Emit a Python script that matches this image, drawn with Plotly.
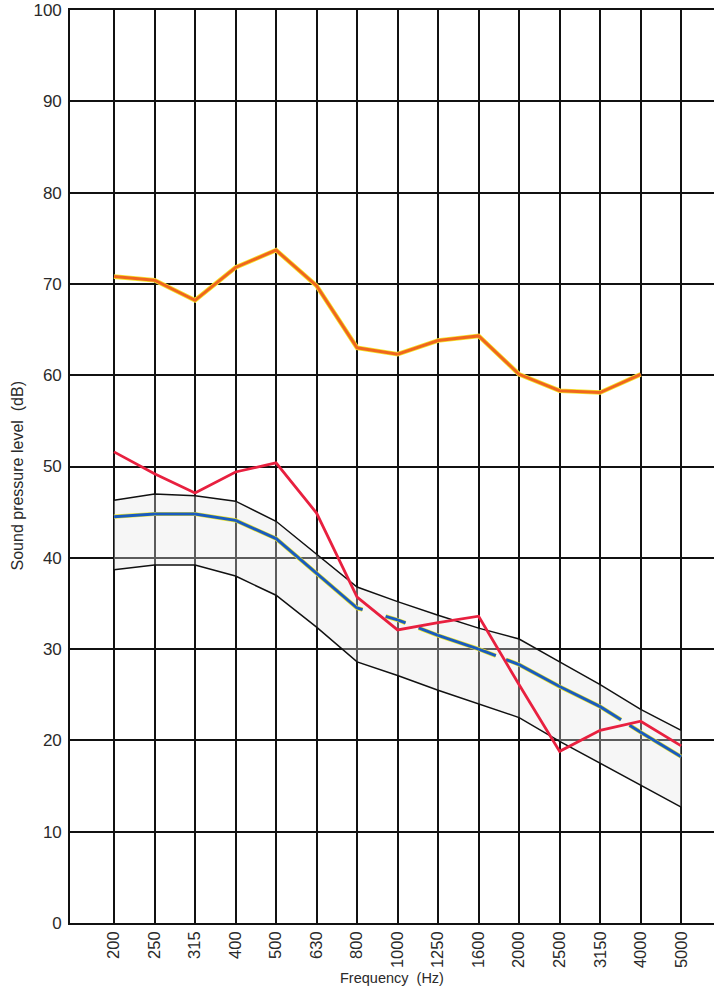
import plotly.graph_objects as go

freqs = ["200", "250", "315", "400", "500", "630", "800", "1000", "1250",
         "1600", "2000", "2500", "3150", "4000", "5000"]

# upper curve (orange) 200..4000 Hz
orange_vals = [70.8, 70.4, 68.2, 71.8, 73.7, 69.8, 63.0, 62.3, 63.8, 64.3,
               60.1, 58.3, 58.1, 60.1]
# red curve
red_vals = [51.6, 49.2, 47.1, 49.4, 50.4, 44.9, 35.7, 32.1, 32.9, 33.6,
            26.1, 18.8, 21.1, 22.1, 19.4]
# mean curve (blue, dashed)
mean_vals = [44.5, 44.8, 44.8, 44.1, 42.1, 38.3, 34.5, 33.2, 31.5, 30.0,
             28.3, 25.9, 23.7, 20.9, 18.2]
# band limits
upper_vals = [46.3, 47.0, 46.8, 46.2, 44.0, 40.4, 36.8, 35.2, 33.7, 32.3,
              31.1, 28.6, 26.1, 23.4, 21.1]
lower_vals = [38.7, 39.2, 39.2, 38.0, 35.9, 32.4, 28.6, 27.1, 25.5, 24.0,
              22.5, 19.9, 17.5, 15.1, 12.7]

y_ticks = list(range(0, 101, 10))

fig = go.Figure()

# band
fig.add_trace(go.Scatter(x=freqs, y=lower_vals, mode="lines",
                         line=dict(color="#111111", width=1.5),
                         hoverinfo="skip", showlegend=False))
fig.add_trace(go.Scatter(x=freqs, y=upper_vals, mode="lines",
                         line=dict(color="#111111", width=1.5),
                         fill="tonexty", fillcolor="rgba(228,228,228,0.35)",
                         hoverinfo="skip", showlegend=False))

dash_pat = "279px,24px,21px,14px,82px,11px,130px,10px,62px,40px"
fig.add_trace(go.Scatter(x=freqs, y=mean_vals, mode="lines",
                         line=dict(color="#eee52a", width=4.2, dash=dash_pat),
                         showlegend=False))
fig.add_trace(go.Scatter(x=freqs, y=mean_vals, mode="lines",
                         line=dict(color="#1a5cbf", width=3, dash=dash_pat),
                         showlegend=False))

fig.add_trace(go.Scatter(x=freqs, y=red_vals, mode="lines",
                         line=dict(color="#e8203f", width=2.8),
                         showlegend=False))

fig.add_trace(go.Scatter(x=freqs[:len(orange_vals)], y=orange_vals, mode="lines",
                         line=dict(color="#f5e62a", width=4.6),
                         showlegend=False))
fig.add_trace(go.Scatter(x=freqs[:len(orange_vals)], y=orange_vals, mode="lines",
                         line=dict(color="#f0661e", width=3),
                         showlegend=False))

fig.update_layout(
    width=714, height=990,
    margin=dict(l=70, r=0, t=10, b=67, autoexpand=False),
    paper_bgcolor="white", plot_bgcolor="white",
    font=dict(family="Liberation Sans, Arial, sans-serif", color="#2a2a2a"),
    xaxis=dict(type="category", categoryorder="array", categoryarray=freqs,
               range=[-1.086, 14.81], showgrid=True, gridcolor="#111111",
               gridwidth=1.6, showline=True, linecolor="#111111", linewidth=1.6,
               mirror=True, ticks="", tickangle=-90, ticklabelstandoff=0,
               tickfont=dict(size=16.5, color="#2a2a2a"), zeroline=False),
    yaxis=dict(range=[0, 100], tickvals=y_ticks, showgrid=True,
               gridcolor="#111111", gridwidth=1.6, showline=True,
               linecolor="#111111", linewidth=1.6, ticks="", ticklabelstandoff=3,
               ticklabeloverflow="allow",
               tickfont=dict(size=17, color="#2a2a2a"), zeroline=False),
    annotations=[
        dict(text="Frequency\u00a0\u00a0(Hz)", xref="paper", yref="paper",
             x=0.5, y=-0.0602, xanchor="center", yanchor="middle",
             showarrow=False, font=dict(size=14.5, color="#2a2a2a")),
        dict(text="Sound pressure level\u00a0\u00a0(dB)", xref="paper", yref="paper",
             x=-0.081, y=0.49, xanchor="center", yanchor="middle",
             textangle=-90, showarrow=False, font=dict(size=16, color="#2a2a2a")),
    ],
)

fig.write_html("out.html",
               config={"displayModeBar": False},
               post_script="document.body.style.margin='0';")
